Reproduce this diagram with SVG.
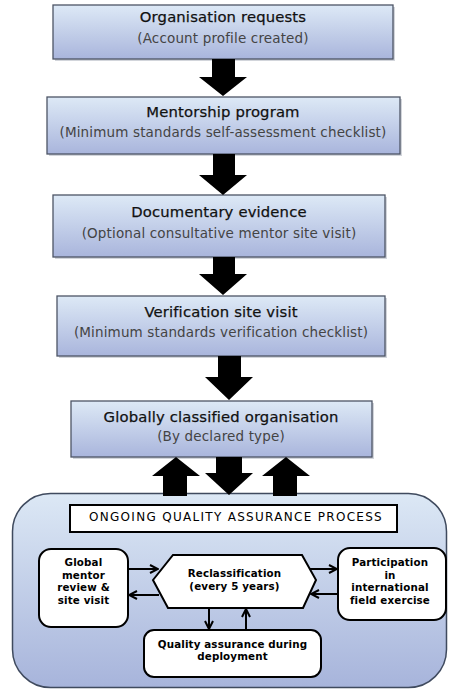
<svg xmlns="http://www.w3.org/2000/svg" width="451" height="690" viewBox="0 0 451 690">
  <defs>
    <linearGradient id="stepFill" x1="0" y1="0" x2="0" y2="1">
      <stop offset="0" stop-color="#dde9f6"/>
      <stop offset="1" stop-color="#a9b5dc"/>
    </linearGradient>
    <linearGradient id="panelFill" x1="0" y1="0" x2="0" y2="1">
      <stop offset="0" stop-color="#dce8f5"/>
      <stop offset="1" stop-color="#a7b4db"/>
    </linearGradient>
    <marker id="open" viewBox="0 0 10 10" refX="9" refY="5" markerWidth="10" markerHeight="10" markerUnits="userSpaceOnUse" orient="auto">
      <path d="M1,1 L9,5 L1,9" fill="none" stroke="#000" stroke-width="2"/>
    </marker>
  </defs>
  <style>
    .step { fill: url(#stepFill); stroke: #4d5566; stroke-width: 1.3; }
    .shadow { fill: #7f8799; opacity: 0.35; }
    .title { font-family: "DejaVu Sans", Verdana, sans-serif; font-size: 14.8px; letter-spacing: 0.15px; fill: #111; stroke: #111; stroke-width: 0.25; text-anchor: middle; }
    .sub { font-family: "DejaVu Sans", Verdana, sans-serif; font-size: 13.5px; letter-spacing: 0.15px; fill: #444; text-anchor: middle; }
    .block { fill: #000; }
    .panel { fill: url(#panelFill); stroke: #3f4a5e; stroke-width: 1.5; }
    .wbox { fill: #fff; stroke: #000; stroke-width: 2; }
    .head { font-family: "DejaVu Sans", Verdana, sans-serif; font-size: 12px; letter-spacing: 1.3px; fill: #000; text-anchor: middle; }
    .lbl { font-family: "DejaVu Sans", Verdana, sans-serif; font-size: 10.3px; font-weight: bold; letter-spacing: 0.15px; fill: #000; text-anchor: middle; }
    .link { stroke: #000; stroke-width: 2; fill: none; marker-end: url(#open); }
  </style>

  <!-- main flow steps -->
  <g id="organisation-requests">
    <rect class="shadow" x="55" y="7" width="340" height="54"/>
    <rect class="step" x="53" y="5" width="340" height="54"/>
    <text class="title" x="223" y="22">Organisation requests</text>
    <text class="sub" x="223" y="43">(Account profile created)</text>
  </g>
  <g id="mentorship-program">
    <rect class="shadow" x="49" y="99" width="353" height="57"/>
    <rect class="step" x="47" y="97" width="353" height="57"/>
    <text class="title" x="223" y="117">Mentorship program</text>
    <text class="sub" x="223" y="137">(Minimum standards self-assessment checklist)</text>
  </g>
  <g id="documentary-evidence">
    <rect class="shadow" x="55" y="197" width="332" height="62"/>
    <rect class="step" x="53" y="195" width="332" height="62"/>
    <text class="title" x="219" y="217">Documentary evidence</text>
    <text class="sub" x="219" y="238">(Optional consultative mentor site visit)</text>
  </g>
  <g id="verification-site-visit">
    <rect class="shadow" x="59" y="298" width="328" height="60"/>
    <rect class="step" x="57" y="296" width="328" height="60"/>
    <text class="title" x="221" y="317">Verification site visit</text>
    <text class="sub" x="221" y="337">(Minimum standards verification checklist)</text>
  </g>
  <g id="globally-classified">
    <rect class="shadow" x="73" y="403" width="301" height="56"/>
    <rect class="step" x="71" y="401" width="301" height="56"/>
    <text class="title" x="221" y="422">Globally classified organisation</text>
    <text class="sub" x="221" y="441">(By declared type)</text>
  </g>

  <!-- ongoing quality assurance panel -->
  <g id="quality-assurance-panel">
    <rect class="panel" x="12.5" y="493.5" width="434" height="194" rx="38"/>
  </g>
  <g id="qa-heading">
    <rect x="70" y="505" width="327" height="27" fill="#fff" stroke="#000" stroke-width="2"/>
    <text class="head" x="236" y="521">ONGOING QUALITY ASSURANCE PROCESS</text>
  </g>
  <g id="global-mentor-review">
    <rect class="wbox" x="39" y="549" width="89" height="78" rx="12"/>
    <text class="lbl" x="83.5" y="566">Global</text>
    <text class="lbl" x="83.5" y="578.5">mentor</text>
    <text class="lbl" x="83.5" y="591">review &amp;</text>
    <text class="lbl" x="83.5" y="603.5">site visit</text>
  </g>
  <g id="reclassification">
    <polygon class="wbox" points="153,580 173,555 302,555 316,580 303,608 168,608"/>
    <text class="lbl" x="234.5" y="577">Reclassification</text>
    <text class="lbl" x="234.5" y="589.5">(every 5 years)</text>
  </g>
  <g id="field-exercise">
    <rect class="wbox" x="338" y="548" width="108" height="72" rx="12"/>
    <text class="lbl" x="390" y="566">Participation</text>
    <text class="lbl" x="390" y="578.5">in</text>
    <text class="lbl" x="390" y="591">international</text>
    <text class="lbl" x="390" y="603.5">field exercise</text>
  </g>
  <g id="deployment-qa">
    <rect class="wbox" x="144" y="630" width="177" height="47" rx="10"/>
    <text class="lbl" x="232.5" y="647.5">Quality assurance during</text>
    <text class="lbl" x="232.5" y="659.5">deployment</text>
  </g>

  <!-- connectors -->
  <g id="connectors">
    <!-- block arrows down the main flow -->
    <polygon class="block" points="212,59 235,59 235,77 247,77 223,96 199,77 212,77"/>
    <polygon class="block" points="213,154 235,154 235,175 247,175 223,195 199,175 213,175"/>
    <polygon class="block" points="213,257 235,257 235,274 247,274 223,295 199,274 213,274"/>
    <polygon class="block" points="218,356 241,356 241,377 253,377 229,400 205,377 218,377"/>
    <!-- exchange between classified organisation and the QA panel -->
    <polygon class="block" points="163,496 187,496 187,476 200,476 176,457 152,476 163,476"/>
    <polygon class="block" points="216,457 242,457 242,473 253,473 229,495 205,473 216,473"/>
    <polygon class="block" points="273,496 297,496 297,476 310,476 286,457 262,476 273,476"/>
    <!-- links inside the QA panel -->
    <line class="link" x1="128" y1="569" x2="158" y2="569"/>
    <line class="link" x1="159" y1="595" x2="129" y2="595"/>
    <line class="link" x1="310" y1="569" x2="337" y2="569"/>
    <line class="link" x1="338" y1="594" x2="311" y2="594"/>
    <line class="link" x1="209" y1="608" x2="209" y2="629"/>
    <line class="link" x1="246" y1="630" x2="246" y2="609"/>
  </g>
</svg>
